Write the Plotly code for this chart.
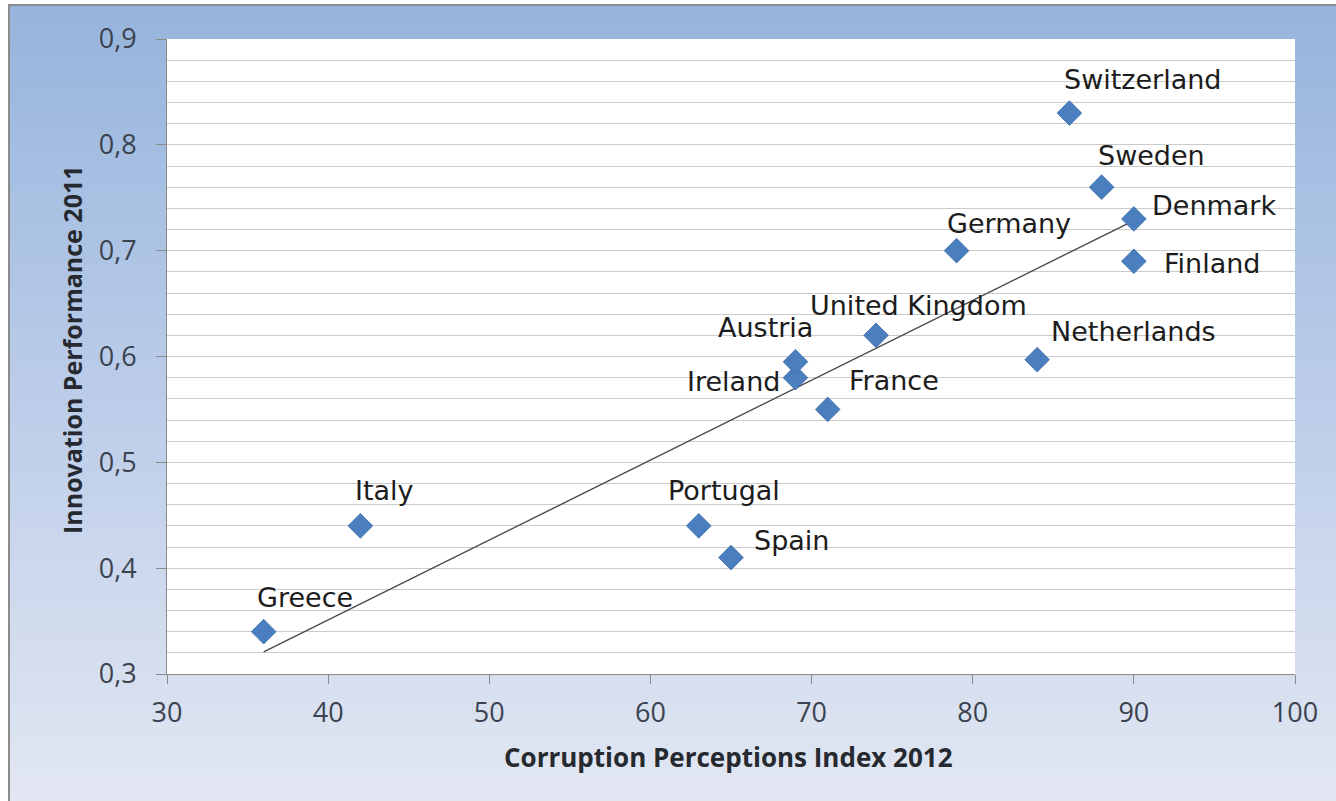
import base64
import numpy as np
import plotly.graph_objects as go

# --- data -------------------------------------------------------------
countries = ["Greece", "Italy", "Portugal", "Spain", "Ireland", "Austria", "France",
             "United Kingdom", "Germany", "Netherlands", "Switzerland", "Sweden",
             "Denmark", "Finland"]
cpi_2012 = [36, 42, 63, 65, 69, 69, 71, 74, 79, 84, 86, 88, 90, 90]
innovation_2011 = [0.34, 0.44, 0.44, 0.41, 0.58, 0.595, 0.55, 0.62, 0.70, 0.597,
                   0.83, 0.76, 0.73, 0.69]

# label offsets from each marker (pixels, right / up)
label_dx = [41, 24, 25, 60, -62, -30, 66, 42, 52, 96, 74, 50, 80, 78]
label_dy = [34, 35, 35, 17, -4, 34, 29, 30, 27, 28, 34, 32, 13, -2]

# --- geometry ---------------------------------------------------------
W, H = 1336, 801
ML, MR, MT, MB = 167, 41, 39, 127
PW, PH = W - ML - MR, H - MT - MB


def fx(px):
    return (px - ML) / PW


def fy(py):
    return (H - MB - py) / PH


# linear trend line over the data range
slope, intercept = np.polyfit(cpi_2012, innovation_2011, 1)
trend_x = [min(cpi_2012), max(cpi_2012)]
trend_y = [slope * v + intercept for v in trend_x]

fig = go.Figure()
fig.add_trace(go.Scatter(
    x=trend_x, y=trend_y, mode="lines",
    line=dict(color="#4a4a4a", width=1.4),
    hoverinfo="skip", showlegend=False,
))
fig.add_trace(go.Scatter(
    x=cpi_2012, y=innovation_2011, mode="markers", text=countries,
    marker=dict(symbol="diamond", size=19, color="#4a7ebf",
                line=dict(color="#3f6fae", width=0.8)),
    showlegend=False,
))

annotations = []
for name, xv, yv, dx, dy in zip(countries, cpi_2012, innovation_2011, label_dx, label_dy):
    annotations.append(dict(
        x=xv, y=yv, xref="x", yref="y", text=name, showarrow=False,
        xshift=dx, yshift=dy, xanchor="center", yanchor="middle",
        font=dict(family="DejaVu Sans", size=27, color="#1c1c1c"),
    ))

title_color = "#262a30"
annotations.append(dict(
    x=fx(728), y=fy(757), xref="paper", yref="paper", showarrow=False,
    text="<b>Corruption Perceptions Index 2012</b>",
    font=dict(family="Open Sans", size=26, color=title_color),
    xanchor="center", yanchor="middle",
))
annotations.append(dict(
    x=fx(72), y=fy(350), xref="paper", yref="paper", showarrow=False,
    text="<b>Innovation Performance 2011</b>",
    font=dict(family="Open Sans", size=25, color=title_color), textangle=-90,
    xanchor="center", yanchor="middle",
))

# soft vertical gradient for the chart area
svg = ('<svg xmlns="http://www.w3.org/2000/svg" width="100" height="100" '
       'preserveAspectRatio="none"><defs><linearGradient id="g" x1="0" y1="0" '
       'x2="0" y2="1"><stop offset="0" stop-color="#96b4dc"/>'
       '<stop offset="0.5" stop-color="#bccde9"/>'
       '<stop offset="1" stop-color="#e2e7f2"/></linearGradient></defs>'
       '<rect width="100" height="100" fill="url(#g)"/></svg>')
bg_src = "data:image/svg+xml;base64," + base64.b64encode(svg.encode()).decode()

axis_grey = "#8a8a8a"
tick_font = dict(family="Open Sans", size=27, color="#3b4250")

fig.update_layout(
    width=W, height=H,
    margin=dict(l=ML, r=MR, t=MT, b=MB, pad=0),
    paper_bgcolor="white", plot_bgcolor="white",
    separators=",.",
    showlegend=False,
    images=[dict(
        source=bg_src, xref="paper", yref="paper",
        x=fx(9), y=fy(5), sizex=fx(W) - fx(9), sizey=fy(5) - fy(H),
        xanchor="left", yanchor="top", sizing="stretch", layer="below",
    )],
    shapes=[
        dict(type="rect", xref="paper", yref="paper",
             x0=fx(9), x1=fx(W + 5), y0=fy(5), y1=fy(H + 5),
             line=dict(color="#8c8c8c", width=2), fillcolor="rgba(0,0,0,0)",
             layer="below"),
        dict(type="rect", xref="paper", yref="paper", x0=0, x1=1, y0=0, y1=1,
             line=dict(width=0), fillcolor="white", layer="below"),
    ],
    annotations=annotations,
    xaxis=dict(
        range=[30, 100], tick0=30, dtick=10, showgrid=False, zeroline=False,
        showline=True, linecolor=axis_grey, linewidth=1,
        ticks="outside", ticklen=9, tickcolor=axis_grey, tickwidth=1,
        tickfont=tick_font, ticklabelstandoff=6,
    ),
    yaxis=dict(
        range=[0.3, 0.9], tick0=0.3, dtick=0.1, tickformat=".1f",
        showgrid=True, gridcolor="#cbcbcb", gridwidth=1, zeroline=False,
        showline=True, linecolor=axis_grey, linewidth=1,
        ticks="outside", ticklen=10, tickcolor=axis_grey, tickwidth=1,
        tickfont=tick_font, ticklabelstandoff=14,
        minor=dict(dtick=0.02, showgrid=True, gridcolor="#cbcbcb", gridwidth=1, ticks=""),
    ),
)

fig.write_html("out.html")
